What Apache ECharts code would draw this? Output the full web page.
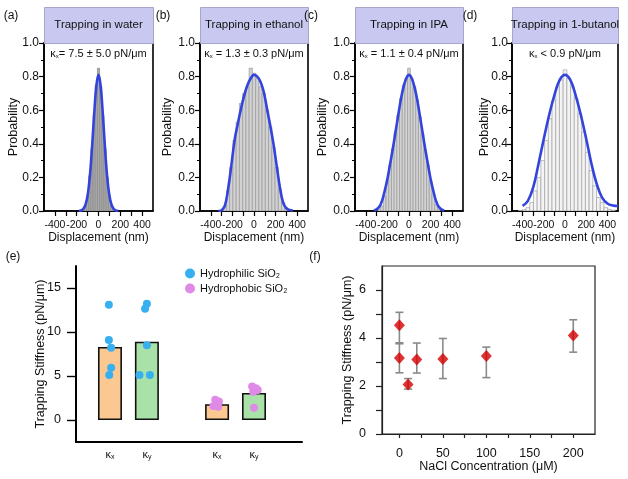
<!DOCTYPE html>
<html><head><meta charset="utf-8">
<script src="https://cdn.jsdelivr.net/npm/echarts@6/dist/echarts.min.js"></script>
<style>html,body{margin:0;padding:0;background:#fff}#c{width:628px;height:479px}</style>
</head><body><div id="c"></div>
<script>
// ---------- DATA ----------
const panelTitles = ['Trapping in water','Trapping in ethanol','Trapping in IPA','Trapping in 1-butanol'];
const panelLetters = ['(a)','(b)','(c)','(d)','(e)','(f)'];
const kValues = ['= 7.5 ± 5.0 pN/μm',' = 1.3 ± 0.3 pN/μm',' = 1.1 ± 0.4 pN/μm',' < 0.9 pN/μm'];
const dispTickLabels = [-400,-200,0,200,400];
const dispTicks = [-400,-300,-200,-100,0,100,200,300,400];

// (a) water
const histA_c = [-140,-120,-100,-80,-60,-40,-20,0,20,40,60,80,100,120,140];
const histA_h = [0.01,0.03,0.09,0.21,0.37,0.57,0.75,0.85,0.74,0.57,0.37,0.20,0.09,0.03,0.01];
const fitA_x = [-180,-160,-140,-120,-100,-80,-60,-40,-20,0,20,40,60,80,100,120,140,160,180];
const fitA_y = [0.001,0.003,0.012,0.036,0.092,0.202,0.371,0.573,0.743,0.81,0.743,0.573,0.371,0.202,0.092,0.036,0.012,0.003,0.001];
// (b) ethanol
const histB_c = [-300,-270,-240,-210,-180,-150,-120,-90,-60,-30,0,30,60,90,120,150,180,210,240,270,300,330];
const histB_h = [0.005,0.03,0.12,0.26,0.42,0.53,0.64,0.70,0.74,0.85,0.82,0.79,0.74,0.70,0.60,0.50,0.38,0.26,0.13,0.05,0.02,0.005];
const fitB_x = [-330,-300,-270,-240,-210,-180,-150,-120,-90,-60,-30,0,30,60,90,120,150,180,210,240,270,300,330,360];
const fitB_y = [0.0,0.005,0.03,0.13,0.27,0.42,0.52,0.61,0.69,0.75,0.79,0.81,0.80,0.77,0.71,0.61,0.51,0.40,0.27,0.14,0.05,0.015,0.006,0.003];
// (c) IPA
const histC_c = [-275,-250,-225,-200,-175,-150,-125,-100,-75,-50,-25,0,25,50,75,100,125,150,175,200,225,250,275];
const histC_h = [0.01,0.03,0.09,0.18,0.27,0.37,0.47,0.57,0.67,0.75,0.79,0.85,0.79,0.74,0.66,0.56,0.46,0.36,0.27,0.18,0.10,0.04,0.01];
const fitC_x = [-325,-300,-275,-250,-225,-200,-175,-150,-125,-100,-75,-50,-25,0,25,50,75,100,125,150,175,200,225,250,275,300,325];
const fitC_y = [0.004,0.01,0.025,0.06,0.12,0.19,0.28,0.37,0.47,0.57,0.665,0.74,0.79,0.81,0.79,0.74,0.665,0.57,0.47,0.37,0.28,0.19,0.12,0.06,0.025,0.01,0.004];
// (d) 1-butanol
const histD_c = [-420,-385,-350,-315,-280,-245,-210,-175,-140,-105,-70,-35,0,35,70,105,140,175,210,245,280,315,350,385,420,455];
const histD_h = [0.003,0.008,0.02,0.05,0.12,0.20,0.30,0.42,0.55,0.66,0.74,0.78,0.84,0.79,0.74,0.67,0.58,0.47,0.35,0.24,0.15,0.08,0.05,0.02,0.01,0.005];
const fitD_x = [-400,-350,-300,-250,-200,-150,-100,-50,0,50,100,150,200,250,300,350,400,450,500];
const fitD_y = [0.03,0.06,0.14,0.28,0.43,0.57,0.69,0.78,0.81,0.78,0.69,0.57,0.43,0.28,0.16,0.08,0.045,0.033,0.03];

// (e) stiffness bars
const eBarPos = [1, 2, 3.9, 4.9];
const eBarLabels = ['x','y','x','y'];
const eBarVals = [8.3, 8.9, 1.8, 3.07];
const eYTicks = [0,5,10,15];
const philicX = [0.97,0.97,1.03,1.03,0.98,2.0,1.95,2.0,1.8,2.08];
const philicY = [13.1,9.1,8.2,5.95,5.1,13.2,12.65,8.5,5.1,5.1];
const phobicX = [3.85,3.95,3.9,3.8,3.93,4.85,4.95,5.0,4.88,4.9];
const phobicY = [2.3,2.1,1.8,1.6,1.5,3.8,3.6,3.4,3.2,1.4];

// (f) NaCl
const nacl = [0, 0, 10, 20, 50, 100, 200];
const stiff = [4.53, 3.17, 2.06, 3.1, 3.12, 3.25, 4.1];
const errLow = [3.76, 2.55, 1.87, 2.54, 2.31, 2.35, 3.41];
const errHigh = [5.07, 3.8, 2.31, 3.79, 3.98, 3.62, 4.76];
const fXLabels = [0,50,100,150,200];
const fXTicks = [0,25,50,75,100,125,150,175,200];
const fYLabels = [0,2,4,6];
const fYTicks = [0,1,2,3,4,5,6];

// ---------- LAYOUT / STYLE ----------
const FONT = "'Liberation Sans', Arial, sans-serif";
const G = [
  {left:44, top:43, width:109, height:168},
  {left:200, top:43, width:108, height:168},
  {left:355, top:43, width:108, height:168},
  {left:512, top:43, width:106, height:168},
  {left:76, top:266, width:226, height:176},
  {left:382, top:266, width:213, height:168}
];
const probGap = [24, 26, 26, 21];
const probMargin = [5, 5, 5, 4];
const histFill = ['#a9a9a9','#d2d2d2','#d4d4d4','#f4f4f4'];
const histStroke = ['#8a8a8a','#9a9a9a','#9a9a9a','#a0a0a0'];
const hists = [[histA_c,histA_h],[histB_c,histB_h],[histC_c,histC_h],[histD_c,histD_h]];
const fits = [[fitA_x,fitA_y],[fitB_x,fitB_y],[fitC_x,fitC_y],[fitD_x,fitD_y]];

const grids = G.map((g,i)=>Object.assign({}, g, i<4 ? {show:true, borderColor:'#000', borderWidth:1.6} : (i===5 ? {show:true, borderColor:'#222', borderWidth:1.2} : {})));

const xAxes = [], yAxes = [], series = [];
for (let i=0;i<4;i++){
  xAxes.push({gridIndex:i, type:'value', min:-500, max:500,
    axisLine:{show:true, onZero:false, lineStyle:{color:'#000', width:1.6}},
    axisTick:{show:true, customValues:dispTicks, length:5, lineStyle:{color:'#000', width:1.2}},
    axisLabel:{customValues:dispTickLabels, color:'#111', fontSize:10.5, margin:9, fontFamily:FONT, hideOverlap:false, showMinLabel:true, showMaxLabel:true},
    splitLine:{show:false},
    name:'Displacement (nm)', nameLocation:'middle', nameGap:21, nameMoveOverlap:false,
    nameTextStyle:{color:'#111', fontSize:12, fontFamily:FONT}});
  yAxes.push({gridIndex:i, type:'value', min:0, max:1, interval:0.2,
    axisLine:{show:true, onZero:false, lineStyle:{color:'#000', width:1.6}},
    axisTick:{show:true, length:5, lineStyle:{color:'#000', width:1.2}},
    minorTick:{show:true, splitNumber:2, length:3, lineStyle:{color:'#000', width:1}},
    axisLabel:{formatter:v=>v.toFixed(1), color:'#111', fontSize:12, margin:probMargin[i], fontFamily:FONT},
    splitLine:{show:false}, minorSplitLine:{show:false},
    name:'Probability', nameLocation:'middle', nameGap:probGap[i], nameMoveOverlap:false,
    nameTextStyle:{color:'#111', fontSize:12.5, fontFamily:FONT}});
  const [cs, hs] = hists[i];
  const w = cs[1]-cs[0];
  const fill = histFill[i], stroke = histStroke[i];
  series.push({type:'custom', xAxisIndex:i, yAxisIndex:i, clip:true,
    data: cs.map((c,k)=>[c-w/2, c+w/2, hs[k]]),
    renderItem:(p, api)=>{
      const a = api.coord([api.value(0), api.value(2)]);
      const b = api.coord([api.value(1), 0]);
      return {type:'rect', shape:{x:a[0], y:a[1], width:b[0]-a[0], height:b[1]-a[1]},
        style:{fill:fill, stroke:stroke, lineWidth:0.7}};
    }});
  const [fx, fy] = fits[i];
  series.push({type:'line', xAxisIndex:i, yAxisIndex:i, data: fx.map((x,k)=>[x, fy[k]]),
    smooth:0.4, showSymbol:false, symbol:'none', clip:true,
    lineStyle:{color:'#3344dd', width:2.6}, z:5});
}
// (e)
xAxes.push({gridIndex:4, type:'value', min:0.08, max:6.2,
  axisLine:{show:true, onZero:false, lineStyle:{color:'#000', width:2}},
  axisTick:{show:false},
  axisLabel:{customValues:eBarPos, margin:7,
    formatter:(v)=>{ const k = eBarPos.findIndex(p=>Math.abs(p-v)<1e-6); return '{k|κ}{s|'+(k>=0?eBarLabels[k]:'')+'}'; },
    rich:{k:{fontSize:11, color:'#111', fontFamily:FONT}, s:{fontSize:7, color:'#111', fontFamily:FONT, padding:[5,0,0,0]}}},
  splitLine:{show:false}});
yAxes.push({gridIndex:4, type:'value', min:-2.5, max:17.5,
  axisLine:{show:true, onZero:false, lineStyle:{color:'#000', width:2}},
  axisTick:{show:true, customValues:eYTicks, length:9, lineStyle:{color:'#000', width:1.4}},
  axisLabel:{customValues:eYTicks, color:'#111', fontSize:12.5, margin:15, fontFamily:FONT},
  splitLine:{show:false},
  name:'Trapping Stiffness (pN/μm)', nameLocation:'middle', nameGap:29, nameMoveOverlap:false,
  nameTextStyle:{color:'#111', fontSize:12.5, fontFamily:FONT}});
const barColors = ['#fcc892','#a9e2a8','#fcc892','#a9e2a8'];
series.push({type:'bar', xAxisIndex:4, yAxisIndex:4, barWidth:24,
  data: eBarPos.map((p,k)=>({value:[p, eBarVals[k]], itemStyle:{color:barColors[k], borderColor:'#111', borderWidth:1.6}}))});
series.push({type:'scatter', name:'Hydrophilic SiO₂', xAxisIndex:4, yAxisIndex:4, symbolSize:8,
  itemStyle:{color:'#38b0f0', opacity:1}, z:6, data: philicX.map((x,k)=>[x, philicY[k]])});
series.push({type:'scatter', name:'Hydrophobic SiO₂', xAxisIndex:4, yAxisIndex:4, symbolSize:8,
  itemStyle:{color:'#e08ae8', opacity:1}, z:6, data: phobicX.map((x,k)=>[x, phobicY[k]])});
// (f)
xAxes.push({gridIndex:5, type:'value', min:-20, max:225,
  axisLine:{show:true, onZero:false, lineStyle:{color:'#222', width:1.2}},
  axisTick:{show:true, customValues:fXTicks, length:4, lineStyle:{color:'#222', width:1.2}},
  axisLabel:{customValues:fXLabels, color:'#111', fontSize:12.5, margin:13, fontFamily:FONT},
  splitLine:{show:false},
  name:'NaCl Concentration (μM)', nameLocation:'middle', nameGap:26, nameMoveOverlap:false,
  nameTextStyle:{color:'#111', fontSize:12.5, fontFamily:FONT}});
yAxes.push({gridIndex:5, type:'value', min:0, max:7,
  axisLine:{show:true, onZero:false, lineStyle:{color:'#222', width:1.2}},
  axisTick:{show:true, customValues:fYTicks, length:6, lineStyle:{color:'#222', width:1.2}},
  axisLabel:{customValues:fYLabels, color:'#111', fontSize:12.5, margin:16, fontFamily:FONT},
  splitLine:{show:false},
  name:'Trapping Stiffness (pN/μm)', nameLocation:'middle', nameGap:28, nameMoveOverlap:false,
  nameTextStyle:{color:'#111', fontSize:12.5, fontFamily:FONT}});
series.push({type:'custom', xAxisIndex:5, yAxisIndex:5, z:3,
  data: nacl.map((x,k)=>[x, errLow[k], errHigh[k]]),
  renderItem:(p, api)=>{
    const lo = api.coord([api.value(0), api.value(1)]);
    const hi = api.coord([api.value(0), api.value(2)]);
    const hw = 4;
    const st = {stroke:'#8a8a8a', lineWidth:1.6};
    return {type:'group', children:[
      {type:'line', shape:{x1:lo[0], y1:lo[1], x2:hi[0], y2:hi[1]}, style:st},
      {type:'line', shape:{x1:lo[0]-hw, y1:lo[1], x2:lo[0]+hw, y2:lo[1]}, style:st},
      {type:'line', shape:{x1:hi[0]-hw, y1:hi[1], x2:hi[0]+hw, y2:hi[1]}, style:st}
    ]};
  }});
series.push({type:'scatter', xAxisIndex:5, yAxisIndex:5, symbol:'diamond', symbolSize:[11,12], z:6,
  itemStyle:{color:'#d40000'}, data: nacl.map((x,k)=>[x, stiff[k]])});

// graphics: title boxes, annotations, panel letters
const graphic = [];
for (let i=0;i<4;i++){
  const g = G[i];
  graphic.push({type:'rect', left:g.left, top:7, shape:{width:g.width, height:g.top-7},
    style:{fill:'#c8c8f0', stroke:'#a6a6c8', lineWidth:1}, z:10});
  graphic.push({type:'text', x:g.left+g.width/2, y:(g.top+7)/2, z:11,
    style:{text:panelTitles[i], fill:'#111', font:'11.5px '+FONT, align:'center', verticalAlign:'middle'}});
  graphic.push({type:'text', x:g.left+g.width/2, y:g.top+11, z:11,
    style:{text:'{k|κ}{s|x}{t|'+kValues[i]+'}', align:'center', verticalAlign:'middle',
      rich:{k:{font:'11px '+FONT, fill:'#111'}, s:{font:'6px '+FONT, fill:'#111', padding:[4,0,0,0]}, t:{font:'11px '+FONT, fill:'#111'}}}});
}
const letterPos = [[11,16],[163,16],[311,16],[470,16],[13,257],[315,257]];
panelLetters.forEach((t,i)=>graphic.push({type:'text', x:letterPos[i][0], y:letterPos[i][1], z:11,
  style:{text:t, fill:'#111', font:'12px '+FONT, align:'center', verticalAlign:'middle'}}));

const chart = echarts.init(document.getElementById('c'), null, {renderer:'canvas'});
chart.setOption({
  animation:false,
  backgroundColor:'#fff',
  textStyle:{fontFamily:FONT},
  grid: grids,
  xAxis: xAxes,
  yAxis: yAxes,
  legend:{data:['Hydrophilic SiO₂','Hydrophobic SiO₂'], orient:'vertical', left:185, top:268, padding:0,
    itemWidth:10, itemHeight:10, itemGap:4, icon:'circle',
    textStyle:{fontSize:11, color:'#111', fontFamily:FONT}},
  series: series,
  graphic: graphic
});
</script></body></html>
